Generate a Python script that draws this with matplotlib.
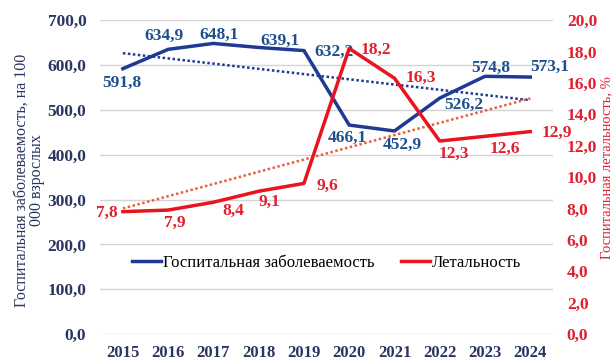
import numpy as np
import matplotlib.pyplot as plt

plt.rcParams['font.family'] = ['Liberation Serif', 'DejaVu Serif']

years = ['2015', '2016', '2017', '2018', '2019', '2020', '2021', '2022', '2023', '2024']
incidence = [591.8, 634.9, 648.1, 639.1, 632.2, 466.1, 452.9, 526.2, 574.8, 573.1]
lethality = [7.8, 7.9, 8.4, 9.1, 9.6, 18.2, 16.3, 12.3, 12.6, 12.9]

BLUE = '#1f3a93'
BLUE_TXT = '#1f4f8f'
RED = '#e8141e'
RED_TXT = '#e02030'
NAVY = '#2a3560'

x = np.arange(len(years))

fig = plt.figure(figsize=(6.15, 3.6), dpi=100)
ax = fig.add_axes([0.163, 0.072, 0.736, 0.872])
ax2 = ax.twinx()

ax.set_xlim(-0.5, len(years) - 0.5)
ax.set_ylim(0, 700)
ax2.set_ylim(0, 20)
ax.set_yticks(np.arange(0, 701, 100))
ax2.set_yticks(np.arange(0, 21, 2))
ax.grid(axis='y', color='#d4d4d4', lw=1)
ax.set_axisbelow(True)

for a in (ax, ax2):
    for s in a.spines.values():
        s.set_visible(False)
    a.tick_params(length=0)

ax.set_xticks(x)
ax.set_xticklabels(years, fontsize=12, fontweight='bold', color=NAVY)
ax.set_yticklabels([f'{v:.1f}'.replace('.', ',') for v in ax.get_yticks()],
                   fontsize=12.5, fontweight='bold', color=NAVY)
ax2.set_yticklabels([f'{v:.1f}'.replace('.', ',') for v in ax2.get_yticks()],
                    fontsize=12.5, fontweight='bold', color=RED_TXT)
ax.tick_params(axis='x', pad=8)
ax.tick_params(axis='y', pad=10)
ax2.tick_params(axis='y', pad=10)

# linear trends
kb = np.polyfit(x, incidence, 1)
kr = np.polyfit(x, lethality, 1)
ax.plot(x, np.polyval(kb, x), ls=(0, (1, 1)), color=BLUE, lw=1.8, zorder=2)
ax2.plot(x, np.polyval(kr, x), ls=(0, (1, 1)), color='#e8603c', lw=1.8, zorder=2)

l1, = ax.plot(x, incidence, color=BLUE, lw=2.5, zorder=3)
l2, = ax2.plot(x, lethality, color=RED, lw=2.5, zorder=3)

# value labels: (dx, dy) offsets in points
blue_off = [(-1, -10), (-3, 10), (4, 6), (15, 5), (22, -1),
            (-1, -9), (6, -10), (17, -5), (4, 6), (14, 7)]
red_off = [(-11.5, -1), (5, -9), (14, -6), (8, -8), (17, -1.5),
           (19, -1), (19, 0), (10, -9), (14, -9), (19, -1)]
for i, v in enumerate(incidence):
    ax.annotate(f'{v:.1f}'.replace('.', ','), (x[i], v), xytext=blue_off[i],
                textcoords='offset points', ha='center', va='center',
                fontsize=12.5, fontweight='bold', color=BLUE_TXT, zorder=5)
for i, v in enumerate(lethality):
    ax2.annotate(f'{v:.1f}'.replace('.', ','), (x[i], v), xytext=red_off[i],
                 textcoords='offset points', ha='center', va='center',
                 fontsize=12.5, fontweight='bold', color=RED_TXT, zorder=5)

ax.set_ylabel('Госпитальная заболеваемость, на 100\n000 взрослых',
              fontsize=11.5, color=NAVY, linespacing=1.0)
ax.yaxis.set_label_coords(-0.121, 0.49)
ax2.set_ylabel('Госпитальная летальность, %', fontsize=10.5, color=RED_TXT)
ax2.yaxis.set_label_coords(1.104, 0.53)

ax.legend([l1, l2], ['Госпитальная заболеваемость', 'Летальность'],
          loc='center', bbox_to_anchor=(0.5, 0.228), ncol=2, frameon=False,
          fontsize=12, handlelength=1.75, handletextpad=0.1, columnspacing=1.6)

fig.savefig('out.png', dpi=100)
